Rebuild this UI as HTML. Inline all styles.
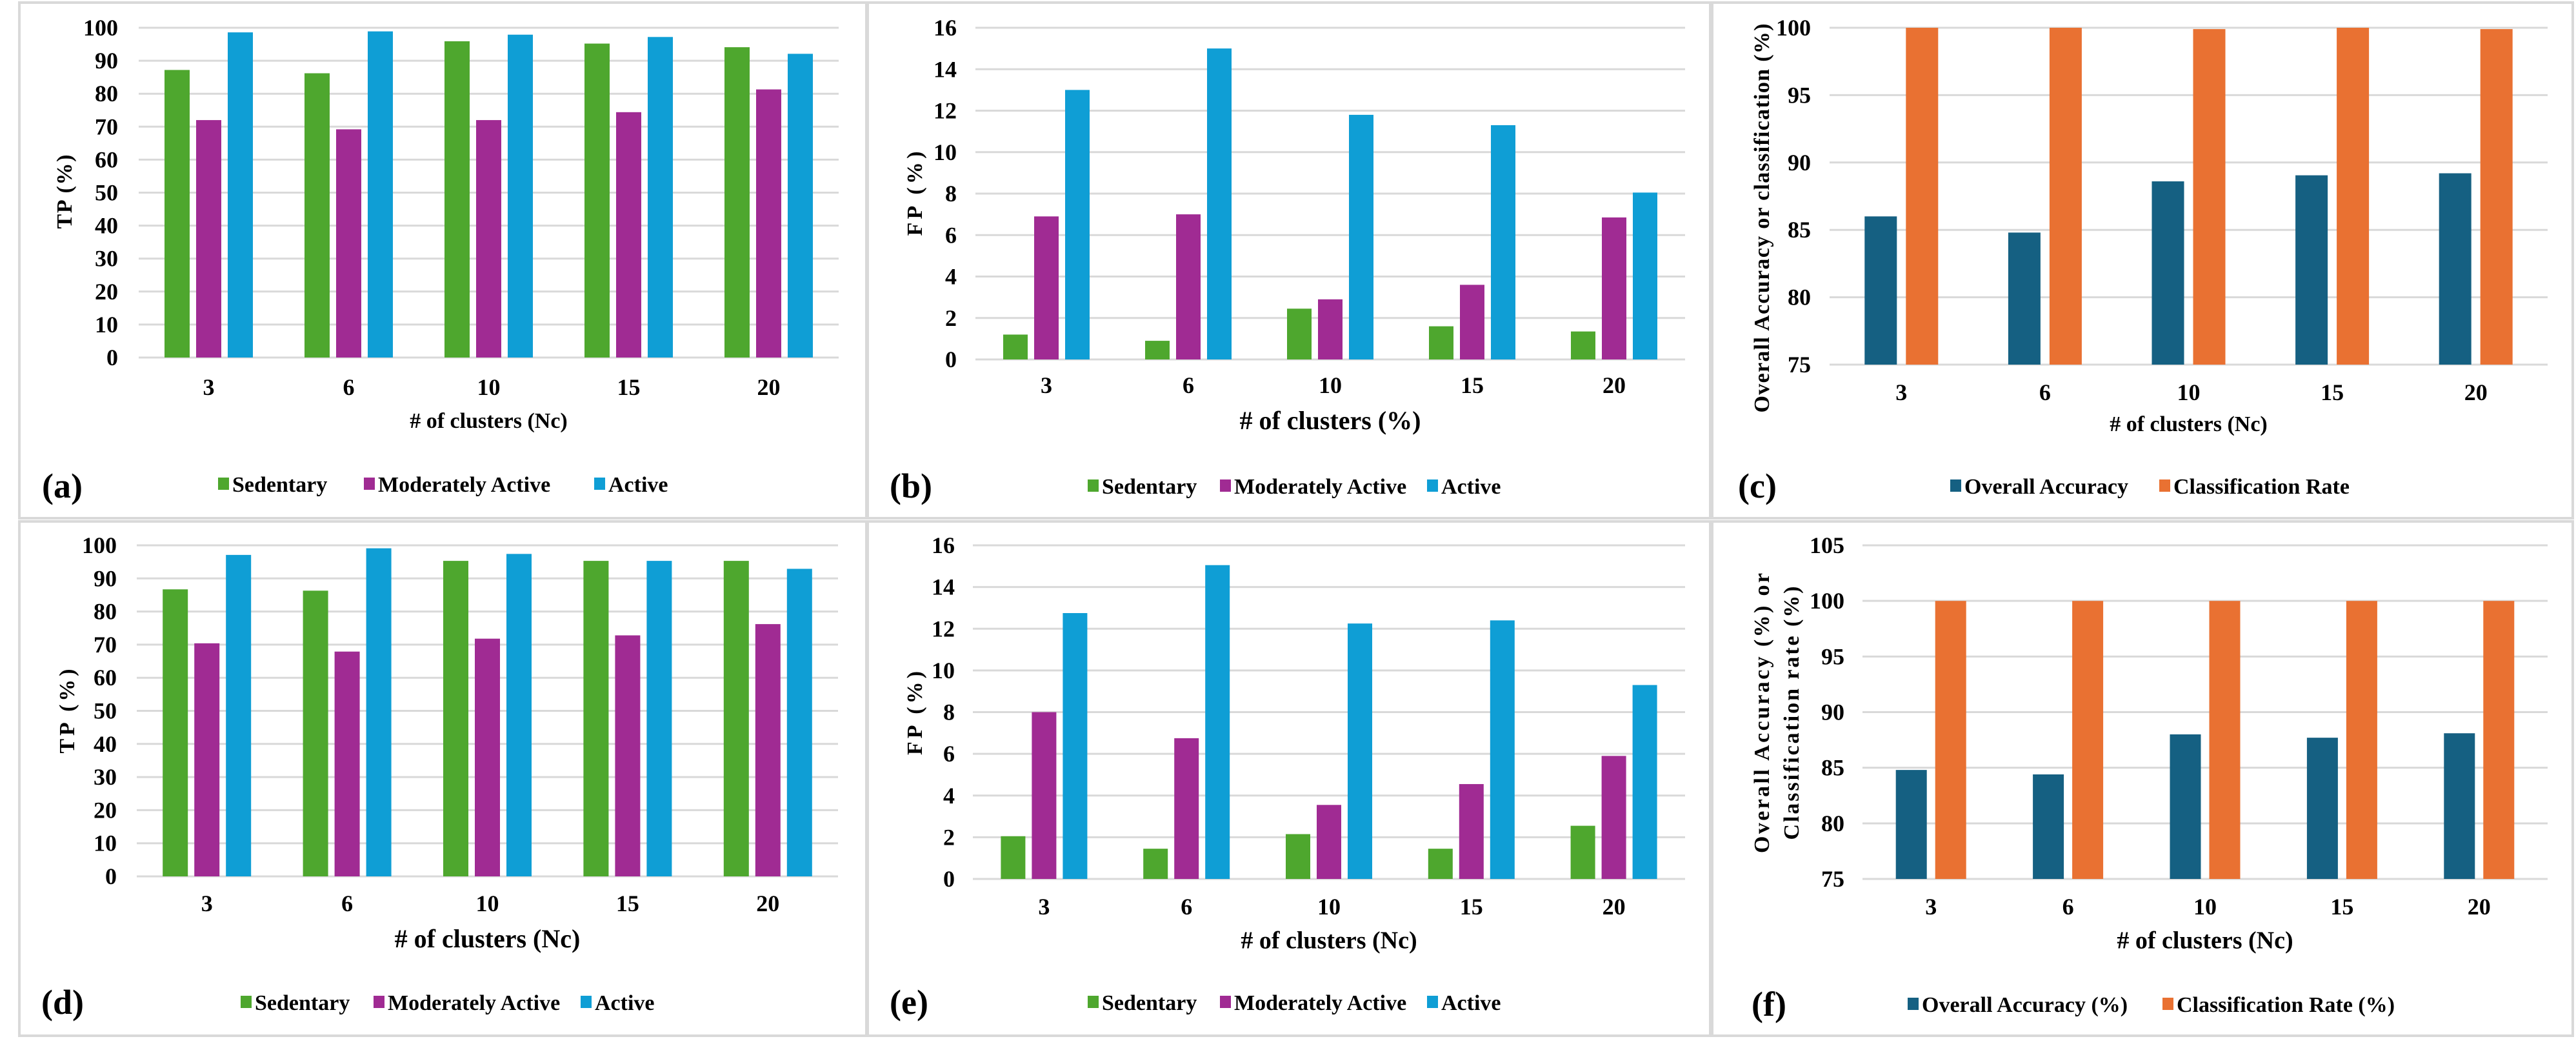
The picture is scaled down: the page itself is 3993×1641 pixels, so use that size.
<!DOCTYPE html>
<html><head><meta charset="utf-8">
<style>
html,body{margin:0;padding:0;background:#fff;}
svg{display:block;}
svg text{font-family:"Liberation Serif","Times New Roman",serif;font-weight:bold;}
</style></head>
<body>
<svg id="fig" width="3993" height="1641" viewBox="0 0 3993 1641" xmlns="http://www.w3.org/2000/svg" font-family="Liberation Serif, serif" font-weight="bold"></svg>
<script>
// ---- data ----
const categories = ["3","6","10","15","20"];
const aSedentary = [87.2,86.2,95.9,95.2,94.1];
const aModerate  = [72.0,69.2,72.0,74.4,81.3];
const aActive    = [98.6,98.9,97.9,97.2,92.1];
const bSedentary = [1.2,0.9,2.45,1.6,1.35];
const bModerate  = [6.9,7.0,2.9,3.6,6.85];
const bActive    = [13.0,15.0,11.8,11.3,8.05];
const cAccuracy  = [86.0,84.8,88.6,89.05,89.2];
const cClassRate = [100,100,99.9,100,99.9];
const dSedentary = [86.7,86.3,95.3,95.3,95.3];
const dModerate  = [70.4,67.9,71.8,72.8,76.2];
const dActive    = [97.1,99.1,97.4,95.3,92.9];
const eSedentary = [2.05,1.45,2.15,1.45,2.55];
const eModerate  = [8.0,6.75,3.55,4.55,5.9];
const eActive    = [12.75,15.05,12.25,12.4,9.3];
const fAccuracy  = [84.8,84.4,88.0,87.7,88.1];
const fClassRate = [100,100,100,100,100];
const tpTicks = [0,10,20,30,40,50,60,70,80,90,100];
const fpTicks = [0,2,4,6,8,10,12,14,16];
const cTicks  = [75,80,85,90,95,100];
const fTicks  = [75,80,85,90,95,100,105];
const activityNames = ["Sedentary","Moderately Active","Active"];
const cNames = ["Overall Accuracy","Classification Rate"];
const fNames = ["Overall Accuracy (%)","Classification Rate (%)"];

const GREEN="#4ea72e", PURPLE="#a02b93", BLUE="#0f9ed5", NAVY="#156082", ORANGE="#e97132";
const NS="http://www.w3.org/2000/svg";
const FONT="'Liberation Serif', 'Times New Roman', serif";
const svg=document.getElementById('fig');
function mk(tag,attrs,parent){const e=document.createElementNS(NS,tag);for(const k in attrs)e.setAttribute(k,attrs[k]);if(tag==='text'){e.setAttribute('font-family',FONT);e.setAttribute('font-weight','bold');}(parent||svg).appendChild(e);return e;}

const borders=[[30,4,1313,799],[1345,4,1306,799],[2654,4,1334,799],[30,808,1313,797],[1345,808,1306,797],[2654,808,1334,797]];
borders.forEach(function(b,i){
  const r=mk('rect',{x:b[0],y:b[1],width:b[2],height:b[3],fill:'none',stroke:'#d9d9d9','stroke-width':4});
  
  
});

const panels=[
 {id:'a',x0:215,x1:1300,yT:43,yB:554,ticks:tpTicks,series:[aSedentary,aModerate,aActive],colors:[GREEN,PURPLE,BLUE],names:activityNames,bw:39,gap:10,tickR:183,xlab:599,title:"# of clusters (Nc)",tsize:34,ty:651,leg:750,sw:[338,564,921],lab:[65,753],yt:[{t:"TP (%)",cx:99,cy:297,len:115}]},
 {id:'b',x0:1512,x1:2612,yT:43,yB:557,ticks:fpTicks,series:[bSedentary,bModerate,bActive],colors:[GREEN,PURPLE,BLUE],names:activityNames,bw:38,gap:10,tickR:1483,xlab:596,title:"# of clusters (%)",tsize:40,ty:651,leg:753,sw:[1686,1891,2212],lab:[1379,753],yt:[{t:"FP (%)",cx:1417,cy:300,len:131}]},
 {id:'c',x0:2836,x1:3949,yT:43,yB:565,ticks:cTicks,series:[cAccuracy,cClassRate],colors:[NAVY,ORANGE],names:cNames,bw:50,gap:14,tickR:2807,xlab:607,title:"# of clusters (Nc)",tsize:34,ty:656,leg:753,sw:[3023,3347],lab:[2694,753],yt:[{t:"Overall Accuracy or classification (%)",cx:2730,cy:338,len:603}]},
 {id:'d',x0:212,x1:1299,yT:845,yB:1358,ticks:tpTicks,series:[dSedentary,dModerate,dActive],colors:[GREEN,PURPLE,BLUE],names:activityNames,bw:39,gap:10,tickR:181,xlab:1399,title:"# of clusters (Nc)",tsize:40,ty:1454,leg:1553,sw:[373,579,900],lab:[64,1553],yt:[{t:"TP (%)",cx:103,cy:1102,len:131}]},
 {id:'e',x0:1508,x1:2612,yT:845,yB:1362,ticks:fpTicks,series:[eSedentary,eModerate,eActive],colors:[GREEN,PURPLE,BLUE],names:activityNames,bw:38,gap:10,tickR:1480,xlab:1404,title:"# of clusters (Nc)",tsize:38,ty:1456,leg:1553,sw:[1686,1891,2212],lab:[1379,1553],yt:[{t:"FP (%)",cx:1417,cy:1105,len:130}]},
 {id:'f',x0:2887,x1:3949,yT:845,yB:1362,ticks:fTicks,series:[fAccuracy,fClassRate],colors:[NAVY,ORANGE],names:fNames,bw:48,gap:13,tickR:2859,xlab:1404,title:"# of clusters (Nc)",tsize:38,ty:1456,leg:1556,sw:[2957,3352],lab:[2715,1556],yt:[{t:"Overall Accuracy (%) or",cx:2730,cy:1105,len:434},{t:"Classification rate (%)",cx:2776,cy:1105,len:393}]}
];

panels.forEach(function(p){
  const g=mk('g',{});
  
  
  const vmin=p.ticks[0], vmax=p.ticks[p.ticks.length-1];
  const yS=function(v){return p.yB-(v-vmin)/(vmax-vmin)*(p.yB-p.yT);};
  const cw=(p.x1-p.x0)/categories.length;
  const xC=function(i){return p.x0+cw*(i+0.5);};
  p.ticks.forEach(function(t){
    const l=mk('line',{x1:p.x0,x2:p.x1,y1:yS(t),y2:yS(t),stroke:'#d9d9d9','stroke-width':3},g);
    
    
    const tx=mk('text',{x:p.tickR,y:yS(t)+12,'text-anchor':'end','font-size':36,fill:'#000'},g);
    tx.textContent=t;
    
    
  });
  const n=p.series.length, total=n*p.bw+(n-1)*p.gap;
  p.series.forEach(function(s,si){
    s.forEach(function(v,i){
      const x=xC(i)-total/2+si*(p.bw+p.gap);
      const r=mk('rect',{x:x,y:yS(v),width:p.bw,height:yS(vmin)-yS(v),fill:p.colors[si]},g);
      
      
    });
  });
  categories.forEach(function(c,i){
    const t=mk('text',{x:xC(i),y:p.xlab+13,'text-anchor':'middle','font-size':36,fill:'#000'},g);
    t.textContent=c;
    
    
  });
  const xt=mk('text',{x:(p.x0+p.x1)/2,y:p.ty+p.tsize*0.35,'text-anchor':'middle','font-size':p.tsize,fill:'#000'},g);
  xt.textContent=p.title;
  
  
  p.yt.forEach(function(y){
    const t=mk('text',{x:0,y:0,'text-anchor':'middle','font-size':34,fill:'#000',textLength:y.len,lengthAdjust:'spacing',transform:'translate('+(y.cx+12)+','+y.cy+') rotate(-90)'},g);
    t.textContent=y.t;
    
    
  });
  p.names.forEach(function(nm,si){
    const r=mk('rect',{x:p.sw[si],y:p.leg-10,width:17,height:19,fill:p.colors[si]},g);
    
    
    const t=mk('text',{x:p.sw[si]+22,y:p.leg+12,'font-size':34,fill:'#000'},g);
    t.textContent=nm;
    
    
  });
  const lb=mk('text',{x:p.lab[0],y:p.lab[1]+18,'font-size':54,fill:'#000'},g);
  lb.textContent='('+p.id+')';
  
  
});
</script>
</body></html>
